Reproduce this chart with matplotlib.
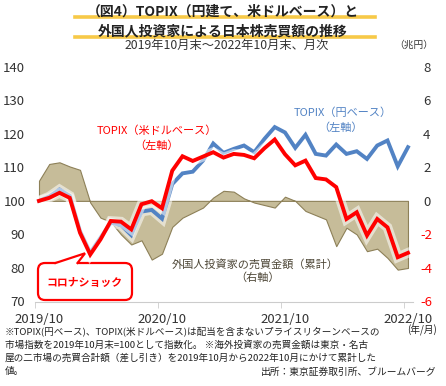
import numpy as np
import matplotlib
matplotlib.use('Agg')
import matplotlib.pyplot as plt
import matplotlib.patheffects as pe
from matplotlib.patches import FancyBboxPatch, Polygon
from matplotlib.lines import Line2D

plt.rcParams['font.family'] = ['Noto Sans CJK JP', 'DejaVu Sans']

# ---------------------------------------------------------------------------
# Data (monthly, 2019/10 - 2022/10)
# ---------------------------------------------------------------------------
topix_usd = [100, 100.9, 102.4, 100.9, 90.5, 84.0, 88.5, 94.0, 93.8, 91.5,
             99.0, 99.9, 97.8, 109.0, 113.3, 111.9, 113.2, 114.5, 112.9, 114.0,
             113.7, 112.7, 115.7, 118.3, 113.9, 110.6, 112.0, 106.8, 106.4, 104.1,
             94.6, 96.6, 89.7, 94.6, 92.1, 83.2, 84.5]
topix_jpy = [100, 101.3, 103.4, 101.5, 91.0, 84.5, 89.0, 93.5, 92.8, 89.8,
             96.8, 97.3, 94.7, 105.0, 108.2, 108.7, 112.0, 117.1, 114.3, 115.5,
             116.5, 114.5, 118.5, 122.0, 120.4, 115.8, 119.7, 114.0, 113.5, 116.8,
             114.0, 114.8, 112.5, 116.5, 118.0, 110.3, 116.0]
foreign_cum = [1.2, 2.2, 2.3, 2.05, 1.85, -0.1, -1.0, -1.25, -2.0, -2.6,
               -2.35, -3.5, -3.15, -1.55, -1.0, -0.7, -0.4, 0.2, 0.6, 0.55,
               0.15, -0.1, -0.25, -0.4, 0.25, 0.0, -0.6, -0.85, -1.1, -2.7,
               -1.6, -2.0, -3.0, -2.85, -3.4, -4.1, -4.0]
year_ticks = [0, 12, 24, 36]
year_labels = ['2019/10', '2020/10', '2021/10', '2022/10']
left_ticks = [70, 80, 90, 100, 110, 120, 130, 140]
right_ticks = [-6, -4, -2, 0, 2, 4, 6, 8]

x = np.arange(len(topix_usd))

RED = '#ff0000'
BLUE = '#5283c4'
AREA = '#c6bc99'
AREA_EDGE = '#8d8058'
TXT = '#333333'

fig = plt.figure(figsize=(4.46, 3.86), dpi=100)
ax = fig.add_axes([35/446, 1 - 301.5/386, 378/446, 234.8/386])
ax2 = ax.twinx()
ax.set_zorder(ax2.get_zorder() + 1)
ax.patch.set_visible(False)

# foreign investors cumulative net buying (right axis)
ax2.fill_between(x, 0, foreign_cum, facecolor=AREA, edgecolor=AREA_EDGE,
                 linewidth=0.8)

glow = [pe.Stroke(linewidth=7, foreground='white', alpha=0.55), pe.Normal()]
ax.plot(x, topix_jpy, color=BLUE, linewidth=2.8, path_effects=glow,
        solid_joinstyle='miter')
ax.plot(x, topix_usd, color=RED, linewidth=2.8, path_effects=glow,
        solid_joinstyle='miter')

ax.set_xlim(-0.39, 36.49)
ax.set_ylim(70, 140)
ax2.set_ylim(-6, 8)

for a in (ax, ax2):
    for s in a.spines.values():
        s.set_visible(False)
ax.spines['bottom'].set_visible(True)
ax.spines['bottom'].set_color('#cccccc')

ax.set_xticks(year_ticks)
ax.set_xticklabels(year_labels, fontsize=9.5, color=TXT)
ax.tick_params(axis='x', length=0, pad=8)
ax.set_xticks([t - 0.35 for t in year_ticks], minor=True)
ax.tick_params(axis='x', which='minor', length=4, color='#cccccc')

ax.set_yticks(left_ticks)
ax.set_yticklabels([str(v) for v in left_ticks], fontsize=9.5, color=TXT)
ax.tick_params(axis='y', length=0, pad=7)

ax2.set_yticks(right_ticks)
ax2.set_yticklabels([str(v) for v in right_ticks], fontsize=9.5)
ax2.tick_params(axis='y', length=0, pad=10)
for v, lab in zip(right_ticks, ax2.get_yticklabels()):
    lab.set_horizontalalignment('center')
    lab.set_color(RED if v < 0 else TXT)

# series labels
ax.text(11.5, 120.9, 'TOPIX（米ドルベース）', color=RED, fontsize=8,
        ha='center', va='center')
ax.text(11.5, 116.4, '（左軸）', color=RED, fontsize=8, ha='center', va='center')
ax.text(29.6, 126.4, 'TOPIX（円ベース）', color=BLUE, fontsize=8,
        ha='center', va='center')
ax.text(29.4, 121.7, '（左軸）', color=BLUE, fontsize=8, ha='center', va='center')
ax.text(21.1, 81.1, '外国人投資家の売買金額（累計）', color='#4d4636', fontsize=8,
        ha='center', va='center')
ax.text(21.3, 77.0, '（右軸）', color='#4d4636', fontsize=8, ha='center', va='center')

# callout
tr = fig.dpi_scale_trans
box = FancyBboxPatch((0.38, 0.86), 0.94, 0.37,
                     boxstyle='round,pad=0,rounding_size=0.07',
                     facecolor='white', edgecolor=RED, linewidth=1.6, transform=tr)
fig.add_artist(box)
fig.add_artist(Polygon([(0.555, 1.21), (0.555, 1.23), (0.85, 1.327),
                        (0.775, 1.23), (0.775, 1.21)], closed=True,
                       facecolor='white', edgecolor='none', transform=tr))
fig.add_artist(Line2D([0.555, 0.85, 0.775], [1.23, 1.327, 1.23], color=RED,
                      linewidth=1.6, transform=tr, solid_joinstyle='miter'))
fig.text(0.85/4.46, 1.03/3.86, 'コロナショック', color=RED, fontsize=7.8,
         fontweight='bold', ha='center', va='center')

# title with highlight bars
for yb in (16.8, 37.0):
    fig.add_artist(Line2D([75/446, 375/446], [1 - yb/386, 1 - yb/386],
                          color='#f7c948', linewidth=2.6, transform=fig.transFigure,
                          zorder=0))
fig.text(0.5, 1 - 11.5/386, '（図4）TOPIX（円建て、米ドルベース）と',
         fontsize=10, fontweight='bold', ha='center', va='center', color='#222222')
fig.text(0.5, 1 - 31.5/386, '外国人投資家による日本株売買額の推移',
         fontsize=10, fontweight='bold', ha='center', va='center', color='#222222')
fig.text(227/446, 1 - 45/386, '2019年10月末～2022年10月末、月次',
         fontsize=8.8, ha='center', va='center', color=TXT)
fig.text(433/446, 1 - 45/386, '（兆円）', fontsize=7, ha='right', va='center',
         color=TXT)

# notes
notes = [
    '※TOPIX(円ベース)、TOPIX(米ドルベース)は配当を含まないプライスリターンベースの',
    '市場指数を2019年10月末=100として指数化。 ※海外投資家の売買金額は東京・名古',
    '屋の二市場の売買合計額（差し引き）を2019年10月から2022年10月にかけて累計した',
    '値。',
]
for i, line in enumerate(notes):
    fig.text(5/446, 1 - (331 + 13.5*i)/386, line, fontsize=6.9, ha='left',
             va='center', color='#222222')
fig.text(437/446, 1 - 330/386, '(年/月)', fontsize=7, ha='right', va='center',
         color='#222222')
fig.text(436/446, 1 - 372/386, '出所：東京証券取引所、ブルームバーグ', fontsize=7,
         ha='right', va='center', color='#222222')

fig.savefig('out.png', dpi=100)
